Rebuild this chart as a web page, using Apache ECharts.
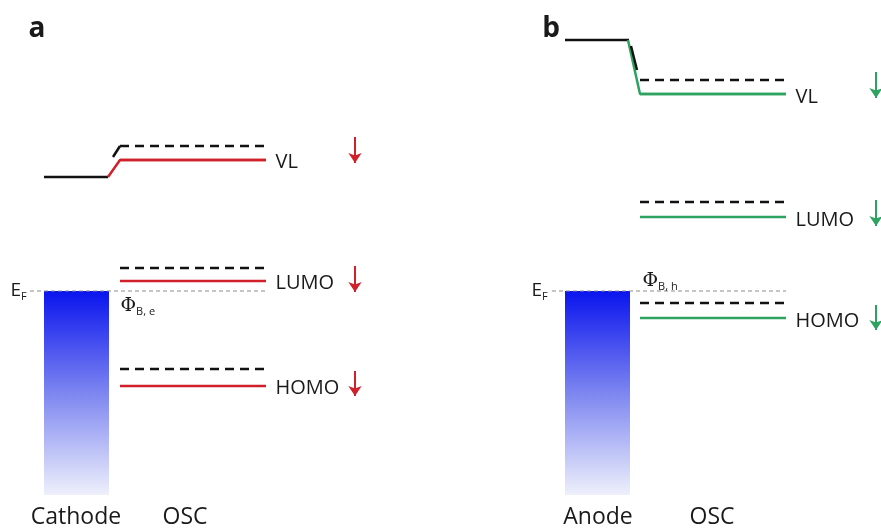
<!DOCTYPE html>
<html lang="en" style="height: 100%">
<head>
  <meta charset="utf-8">
</head>
<body style="height: 100%; margin: 0; background: #fff">
  <div id="container" style="width: 881px; height: 532px"></div>

  <script type="text/javascript" src="https://fastly.jsdelivr.net/npm/echarts@6.0.0/dist/echarts.min.js"></script>
  <script type="text/javascript">
    var dom = document.getElementById('container');
    var myChart = echarts.init(dom, null, { renderer: 'canvas' });

// energy in arbitrary units, Fermi level = 0
var levelNames = ['VL', 'LUMO', 'HOMO'];
var fermi = 0;
var barBottom = -204;
// panel a (cathode)
var xMetalA = [44, 109];
var xOscA = [120, 266];
var aVacMetal = 114;
var aBefore = [145, 23, -78];   // dashed, before contact
var aAfter = [131, 10, -95];    // red, after contact
var aArrows = [[154, 128], [25, -1], [-80, -105]];
// panel b (anode)
var xMetalB = [565, 630];
var xOscB = [640, 786];
var bVacMetal = 251;
var bBefore = [211, 89, -12];
var bAfter = [197, 74, -27];
var bArrows = [[219, 193], [91, 65], [-14, -39]];

var RED = '#d0202a';
var GREEN = '#2ea35f';
var FONT = 'Open Sans';
var INK = '#1a1a1a';

function seg(pts, color, width, type) {
  return {
    type: 'line', data: pts, symbol: 'none', silent: true,
    lineStyle: { color: color, width: width, type: type || 'solid' },
    z: type ? 3 : 2
  };
}

var series = [];

// Fermi level guide lines
series.push(seg([[30, fermi], [xOscA[1], fermi]], '#8c8c8c', 1, [4, 3]));
series.push(seg([[552, fermi], [xOscB[1], fermi]], '#8c8c8c', 1, [4, 3]));

// metal bars with gradient
series.push({
  type: 'custom',
  silent: true,
  data: [[xMetalA[0], xMetalA[1], fermi, barBottom], [xMetalB[0], xMetalB[1], fermi, barBottom]],
  renderItem: function (params, api) {
    var p1 = api.coord([api.value(0), api.value(2)]);
    var p2 = api.coord([api.value(1), api.value(3)]);
    return {
      type: 'rect',
      shape: { x: p1[0], y: p1[1], width: p2[0] - p1[0], height: p2[1] - p1[1] },
      style: {
        fill: new echarts.graphic.LinearGradient(0, 0, 0, 1, [
          { offset: 0, color: '#0a14ee' },
          { offset: 0.5, color: '#7d86f0' },
          { offset: 1, color: '#eef0fb' }
        ])
      }
    };
  },
  z: 1
});

// panel a vacuum level
series.push(seg([[xMetalA[0], aVacMetal], [108, aVacMetal]], '#111', 2.5));
series.push(seg([[108, aVacMetal], [xOscA[0], aAfter[0]], [xOscA[1], aAfter[0]]], RED, 2.5));
series.push(seg([[113, aAfter[0] + 3], [xOscA[0], aBefore[0]]], '#111', 2.5));
// panel b vacuum level
series.push(seg([[xMetalB[0], bVacMetal], [629, bVacMetal]], '#111', 2.5));
series.push(seg([[628, bVacMetal], [xOscB[0], bAfter[0]], [xOscB[1], bAfter[0]]], GREEN, 2.5));
series.push(seg([[631, bVacMetal - 6], [637, bVacMetal - 30]], '#111', 2.5));

for (var i = 0; i < levelNames.length; i++) {
  series.push(seg([[xOscA[0], aBefore[i]], [xOscA[1], aBefore[i]]], '#111', 2.5, [9, 6]));
  series.push(seg([[xOscA[0], aAfter[i]], [xOscA[1], aAfter[i]]], RED, 2.5));
  series.push(seg([[xOscB[0], bBefore[i]], [xOscB[1], bBefore[i]]], '#111', 2.5, [9, 6]));
  series.push(seg([[xOscB[0], bAfter[i]], [xOscB[1], bAfter[i]]], GREEN, 2.5));
}

// shift arrows
series.push({
  type: 'lines', coordinateSystem: 'cartesian2d', silent: true,
  symbol: ['none', 'arrow'], symbolSize: 10,
  lineStyle: { color: RED, width: 2, opacity: 1 },
  data: aArrows.map(function (a) { return { coords: [[355, a[0]], [355, a[1]]] }; })
});
series.push({
  type: 'lines', coordinateSystem: 'cartesian2d', silent: true,
  symbol: ['none', 'arrow'], symbolSize: 10,
  lineStyle: { color: GREEN, width: 2, opacity: 1 },
  data: bArrows.map(function (a) { return { coords: [[876, a[0]], [876, a[1]]] }; })
});

// text labels
var rich = {
  t: { fontSize: 19, color: INK, fontFamily: FONT },
  sub: { fontSize: 11, color: INK, fontFamily: FONT, verticalAlign: 'bottom', padding: [11, 0, 0, 0] },
  phi: { fontSize: 19, color: INK, fontFamily: 'DejaVu Serif' }
};
function txt(x, y, text, pos, size, weight) {
  return {
    value: [x, y],
    label: {
      show: true, position: pos || 'right', distance: 0, formatter: text,
      fontSize: size || 20, fontWeight: weight || 'normal', color: INK, fontFamily: FONT, rich: rich
    }
  };
}
var labels = [];
for (var j = 0; j < levelNames.length; j++) {
  labels.push(txt(275, aAfter[j] - 2, levelNames[j]));
  labels.push(txt(795, bAfter[j] - 3, levelNames[j]));
}
labels.push(txt(10, fermi, '{t|E}{sub|F}'));
labels.push(txt(531, fermi, '{t|E}{sub|F}'));
labels.push(txt(120, -15, '{phi|Φ}{sub|B, e}'));
labels.push(txt(642, 10, '{phi|Φ}{sub|B, h}'));
labels.push(txt(76, -226, 'Cathode', 'inside', 23));
labels.push(txt(185, -226, 'OSC', 'inside', 23));
labels.push(txt(598, -226, 'Anode', 'inside', 23));
labels.push(txt(712, -226, 'OSC', 'inside', 23));
labels.push(txt(37, 262, 'a', 'inside', 28, 'bold'));
labels.push(txt(551, 262, 'b', 'inside', 28, 'bold'));
series.push({
  type: 'scatter', silent: true, symbolSize: 1,
  itemStyle: { color: 'rgba(0,0,0,0)', opacity: 1 },
  data: labels, z: 5
});

var option = {
  backgroundColor: '#fff',
  animation: false,
  grid: { left: 0, right: 0, top: 0, bottom: 0 },
  xAxis: { type: 'value', min: 0, max: 881, show: false },
  yAxis: { type: 'value', min: -241, max: 291, show: false },
  series: series
};

    myChart.setOption(option);
    window.addEventListener('resize', myChart.resize);
  </script>
</body>
</html>
